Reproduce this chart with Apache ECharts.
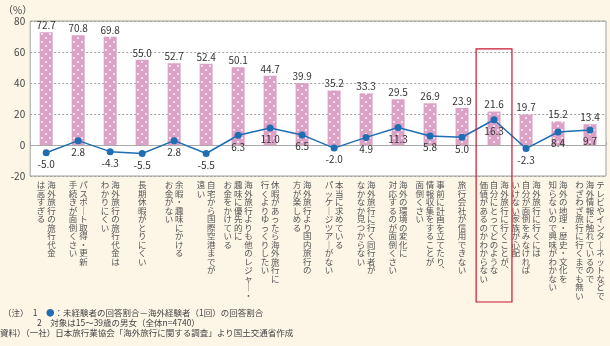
<!DOCTYPE html>
<html><head><meta charset="utf-8">
<script src="https://cdn.jsdelivr.net/npm/echarts@6/dist/echarts.min.js"></script>
<style>html,body{margin:0;padding:0;background:#FDF5E6;}#c{width:610px;height:346px;}</style>
</head><body><div id="c"></div>
<script>
// Category labels: columns of vertical text separated by "|" (first column = rightmost)
const categories = [
  '海外旅行の旅行代金|は高すぎる',
  'パスポート取得・更新|手続きが面倒くさい',
  '海外旅行の旅行代金は|わかりにくい',
  '長期休暇がとりにくい',
  '余暇・趣味にかける|お金がない',
  '自宅から国際空港までが|遠い',
  '海外旅行よりも他のレジャー・|趣味に優先的に|お金をかけている',
  '休暇があったら海外旅行に|行くよりゆっくりしたい',
  '海外旅行より国内旅行の|方が楽しめる',
  '本当に求めている|パッケージツアーがない',
  '海外旅行に行く同行者が|なかなか見つからない',
  '海外の環境の変化に|対応するのが面倒くさい',
  '事前に計画を立てたり、|情報収集をすることが|面倒くさい',
  '旅行会社が信用できない',
  '海外旅行に行くことが、|自分にとってどのような|価値があるのかわからない',
  '海外旅行に行くには|自分が面倒をみなければ|いけない家族が心配',
  '海外の地理・歴史・文化を|知らないので興味がわかない',
  'テレビやインターネットなどで|海外情報に触れているので|わざわざ旅行に行くまでも無い'
];
const barValues = [72.7, 70.8, 69.8, 55.0, 52.7, 52.4, 50.1, 44.7, 39.9, 35.2, 33.3, 29.5, 26.9, 23.9, 21.6, 19.7, 15.2, 13.4];
const diffValues = [-5.0, 2.8, -4.3, -5.5, 2.8, -5.5, 6.3, 11.0, 6.5, -2.0, 4.9, 11.3, 5.8, 5.0, 16.3, -2.3, 8.4, 9.7];
const yTicks = { min: -20, max: 80, interval: 20 };
const highlightIndex = 14;

function vertical(label) {
  const cols = label.split('|').map(c => Array.from(c.replace(/ー/g, '｜').replace(/、/g, '︑')));
  const n = Math.max(...cols.map(c => c.length));
  const rows = [];
  for (let i = 0; i < n; i++) {
    rows.push(cols.slice().reverse().map(c => c[i] || '　').join(' '));
  }
  return rows.join('\n');
}

const tile = document.createElement('canvas');
tile.width = 8; tile.height = 8;
const tc = tile.getContext('2d');
tc.fillStyle = '#DCA2C5'; tc.fillRect(0, 0, 8, 8);
tc.fillStyle = '#FFFFFF';
[[2, 2], [6, 6]].forEach(p => { tc.beginPath(); tc.arc(p[0], p[1], 0.9, 0, Math.PI * 2); tc.fill(); });

const chart = echarts.init(document.getElementById('c'));
const font = '"Noto Sans CJK JP", "Noto Sans", sans-serif';

const notes = [
  { type: 'text', left: 3, top: 309, style: { text: '（注）　1　{b|●}：未経験者の回答割合－海外経験者（1回）の回答割合', font: '8.5px ' + font, fill: '#444', rich: { b: { fill: '#1F6DB3', fontSize: 8.5, fontFamily: font } } } },
  { type: 'text', left: 3, top: 319, style: { text: '　　　　2　対象は15～39歳の男女（全体n=4740）', font: '8.5px ' + font, fill: '#444' } },
  { type: 'text', left: 0, top: 329, style: { text: '資料）（一社）日本旅行業協会「海外旅行に関する調査」より国土交通省作成', font: '8.5px ' + font, fill: '#444' } }
];

chart.setOption({
  backgroundColor: '#FDF5E6',
  animation: false,
  textStyle: { fontFamily: font },
  grid: { left: 28, right: 4, top: 21, bottom: 170, show: true, backgroundColor: '#FFFFFF', borderColor: '#A0A0A0', borderWidth: 1 },
  xAxis: [
    {
      type: 'category', data: categories, position: 'bottom',
      axisLine: { show: false, onZero: false }, axisTick: { show: false },
      axisLabel: { interval: 0, formatter: vertical, fontSize: 8.5, lineHeight: 8.5, color: '#555', verticalAlign: 'top', margin: 5, fontFamily: font }
    },
    {
      type: 'category', data: categories, position: 'top',
      axisLine: { show: true, onZero: true, lineStyle: { color: '#AAAAAA', width: 1 } },
      axisTick: { show: true, inside: false, length: 3, lineStyle: { color: '#AAAAAA' } },
      axisLabel: { show: false }
    }
  ],
  yAxis: {
    type: 'value', min: yTicks.min, max: yTicks.max, interval: yTicks.interval,
    name: '（%）', nameLocation: 'end', nameGap: 6,
    nameTextStyle: { align: 'right', fontSize: 10, color: '#444', padding: [0, -2, 0, 0] },
    axisLine: { show: false }, axisTick: { show: false },
    axisLabel: { fontSize: 10, color: '#444', margin: 5 },
    splitLine: { lineStyle: { type: [2, 2], color: '#A0A0A0' } }
  },
  series: [
    {
      type: 'bar', data: barValues, barWidth: 13, xAxisIndex: 0,
      itemStyle: { color: { image: tile, repeat: 'repeat' } },
      label: { show: true, position: 'top', distance: 2, fontSize: 10, color: '#333', formatter: p => p.value.toFixed(1) }
    },
    {
      type: 'line', data: diffValues, xAxisIndex: 0, symbol: 'circle', symbolSize: 7,
      lineStyle: { color: '#1F6DB3', width: 1.5 }, itemStyle: { color: '#1F6DB3' },
      label: { show: true, position: 'bottom', distance: 3, fontSize: 10, color: '#333', formatter: p => p.value.toFixed(1) },
      z: 3
    }
  ],
  graphic: notes
});

const cx = chart.convertToPixel({ xAxisIndex: 0 }, categories[highlightIndex]);
const band = chart.convertToPixel({ xAxisIndex: 0 }, categories[1]) - chart.convertToPixel({ xAxisIndex: 0 }, categories[0]);
const yTop = chart.convertToPixel({ yAxisIndex: 0 }, 62);
chart.setOption({
  graphic: notes.concat([{
    type: 'rect', shape: { x: cx - band * 0.56, y: yTop, width: band * 1.12, height: 302 - yTop },
    style: { fill: 'none', stroke: '#C8182E', lineWidth: 1.2 }, z: 100
  }])
});
</script></body></html>
